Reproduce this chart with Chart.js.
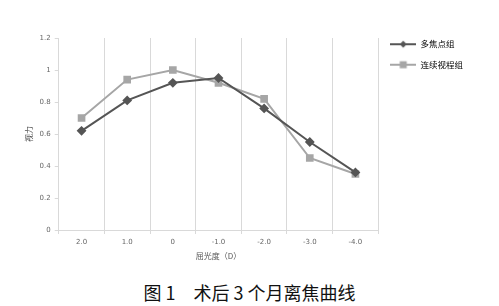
<!DOCTYPE html>
<html><head><meta charset="utf-8">
<script src="https://cdn.jsdelivr.net/npm/chart.js@4/dist/chart.umd.min.js"></script>
<style>
html,body{margin:0;padding:0;background:#fff;}
#wrap{position:absolute;left:0;top:0;width:499px;height:265px;}
#cap{position:absolute;left:0;top:279px;width:499px;text-align:center;font-family:"Noto Sans CJK SC","Noto Sans",sans-serif;font-size:18px;color:#111;}
</style></head>
<body>
<div id="wrap"><canvas id="c"></canvas></div>
<div id="cap">图 1　术后 3 个月离焦曲线</div>
<script>
const categories = ["2.0","1.0","0","-1.0","-2.0","-3.0","-4.0"];
const multifocal = [0.62,0.81,0.92,0.95,0.76,0.55,0.36];
const continuous = [0.70,0.94,1.00,0.92,0.82,0.45,0.35];
const seriesNames = ["多焦点组","连续视程组"];
const yTitle = "视力";
const xTitle = "屈光度（D）";

function legendIcon(color, style){
  const cv=document.createElement('canvas'); cv.width=26; cv.height=10;
  const x=cv.getContext('2d');
  x.strokeStyle=color; x.lineWidth=2; x.beginPath(); x.moveTo(0,5); x.lineTo(26,5); x.stroke();
  x.fillStyle=color;
  if(style==='diamond'){x.beginPath();x.moveTo(13,1.5);x.lineTo(16.5,5);x.lineTo(13,8.5);x.lineTo(9.5,5);x.closePath();x.fill();}
  else {x.fillRect(9.5,1.5,7,7);}
  return cv;
}
const darkC="#555555", lightC="#a6a6a6";
const icons=[legendIcon(darkC,'diamond'),legendIcon(lightC,'square')];
const tickFont={family:"'DejaVu Sans',sans-serif",size:7};
const legendShift={id:'legendShift',afterLayout(chart){ if(chart.legend){chart.legend.top-=10;chart.legend.bottom-=10;} }};
new Chart(document.getElementById('c'),{
  type:'line',
  data:{labels:categories,datasets:[
    {label:seriesNames[0],data:multifocal,borderColor:darkC,backgroundColor:darkC,borderWidth:2,pointStyle:'rectRot',pointRadius:3.5,pointHoverRadius:3.5,tension:0},
    {label:seriesNames[1],data:continuous,borderColor:lightC,backgroundColor:lightC,borderWidth:2,pointStyle:'rect',pointRadius:4,pointHoverRadius:4,tension:0}
  ]},
  plugins:[legendShift],
  options:{
    responsive:true,maintainAspectRatio:false,animation:false,
    layout:{padding:{left:20,top:38,right:26,bottom:0}},
    plugins:{
      legend:{position:'right',align:'start',
        labels:{usePointStyle:true,pointStyleWidth:26,color:'#555',font:{family:"'Noto Sans CJK SC',sans-serif",size:8.5},padding:12,boxHeight:10,
          generateLabels:(ch)=>ch.data.datasets.map((d,i)=>({text:d.label,pointStyle:icons[i],fillStyle:d.borderColor,strokeStyle:d.borderColor,lineWidth:0,datasetIndex:i,hidden:false}))}},
      tooltip:{enabled:false}
    },
    scales:{
      x:{offset:true,grid:{offset:true,color:'#d9d9d9',tickLength:4,drawTicks:true},border:{color:'#d9d9d9'},
        ticks:{color:'#666',font:tickFont,padding:4},
        title:{display:true,text:xTitle,color:'#555',font:{family:"'Noto Sans CJK SC',sans-serif",size:8},padding:{top:1}}},
      y:{min:0,max:1.2,ticks:{stepSize:0.2,color:'#666',font:tickFont,padding:4,
          callback:(v)=>{const r=Math.round(v*10)/10;return Number.isInteger(r)?String(r):r.toFixed(1);}},
        grid:{drawOnChartArea:false,drawTicks:true,tickLength:4,color:'#d9d9d9'},border:{color:'#d9d9d9'},
        title:{display:true,text:yTitle,color:'#555',font:{family:"'Noto Sans CJK SC',sans-serif",size:8},padding:{bottom:2}}}
    }
  }
});
</script>
</body></html>
